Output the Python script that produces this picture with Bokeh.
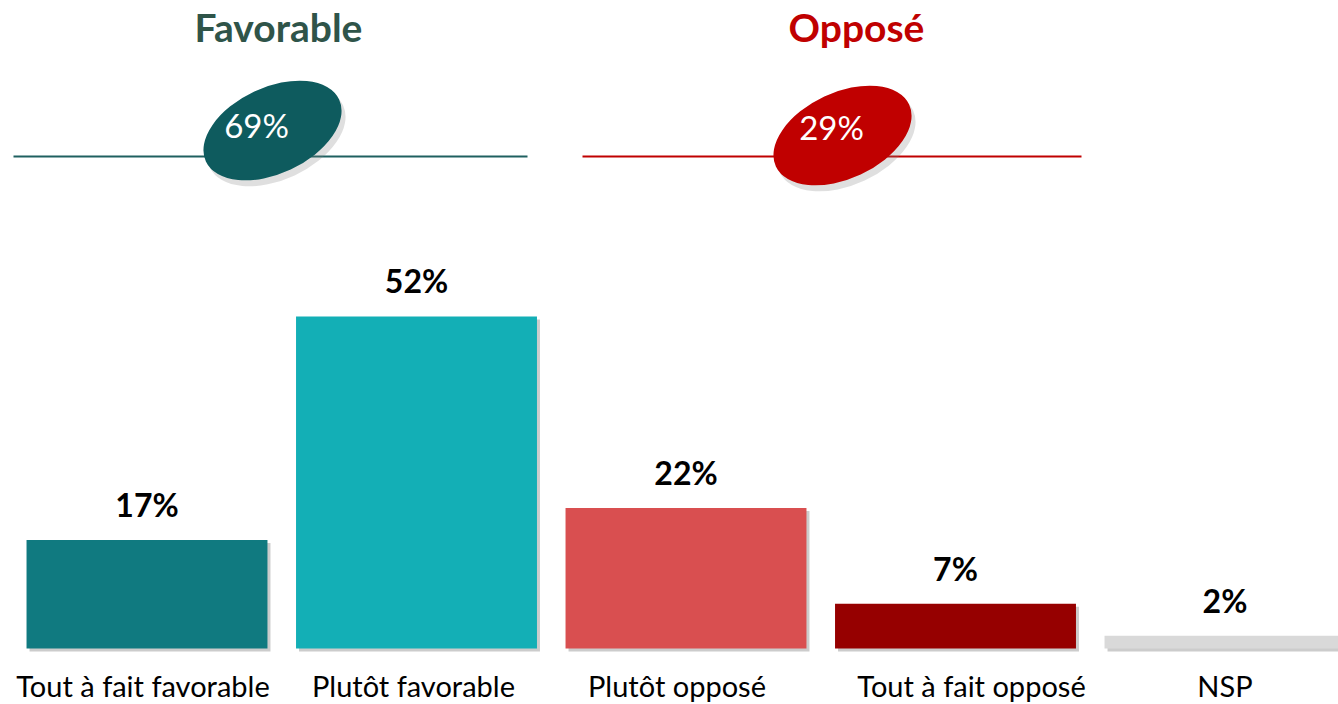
from bokeh.plotting import figure
from bokeh.models import Range1d, ColumnDataSource
from bokeh.core.properties import value
from bokeh.embed import file_html
from bokeh.resources import INLINE

# ---- data ----
categories = ["Tout à fait favorable", "Plutôt favorable", "Plutôt opposé", "Tout à fait opposé", "NSP"]
values = [17, 52, 22, 7, 2]
bar_colors = ["#107A80", "#13AFB6", "#D94F50", "#960000", "#D9D9D9"]
groups = ["Favorable", "Opposé"]
group_totals = [69, 29]
group_colors = ["#2F5449", "#C00000"]
group_fill = ["#0E5B5E", "#C00000"]
group_line = ["#1F6060", "#C00000"]

W, H = 1338, 704
OFF = 0
X0 = (OFF - 146.5) / 269.5
X1 = (OFF + W - 146.5) / 269.5
Y0 = (648 - (OFF + H)) / 6.385
Y1 = (648 - OFF) / 6.385
FONT = "Lato"
label_dx_px = [-4, -3, -9, 16, 0]   # small horizontal nudges of category labels (screen px)

def px(xp):  # page x -> data x
    return X0 + (xp - OFF) / W * (X1 - X0)

def py(yp):  # page y -> data y
    return Y1 - (yp - OFF) / H * (Y1 - Y0)

p = figure(width=W, height=H, output_backend="svg", toolbar_location=None,
           x_range=Range1d(X0, X1), y_range=Range1d(Y0, Y1), min_border=0)
p.axis.visible = False
p.grid.visible = False
p.outline_line_color = None
p.background_fill_color = "white"
p.border_fill_color = "white"

xs = list(range(len(categories)))
dx = 3 * (X1 - X0) / W
dy = 3 * (Y1 - Y0) / H
src = ColumnDataSource(dict(x=xs, v=values, c=bar_colors, cat=categories,
                            lab=[f"{v}%" for v in values],
                            lx=[x + d * (X1 - X0) / W for x, d in zip(xs, label_dx_px)],
                            sx=[x + dx for x in xs], sv=[v - dy for v in values]))

# bar shadows
p.vbar(x="sx", top="sv", bottom=-dy, width=0.894, source=src,
       fill_color="#9A9A9A", fill_alpha=0.5, line_color=None)
p.vbar(x="x", top="v", bottom=0, width=0.894, source=src,
       fill_color="c", line_color=None)

# value labels
p.text(x="x", y="v", text="lab", source=src, text_align="center", text_baseline="bottom",
       y_offset=-16, text_font=value(FONT), text_font_style="bold",
       text_font_size="32px", text_color="#000000")

# category labels
p.text(x="lx", y=py(685), text="cat", source=src, text_align="center", text_baseline="middle",
       text_font=value(FONT), text_font_size="29px", text_color="#000000")

# group headers, lines, ellipses
head_x = [px(278), px(856)]
line_x0 = [px(13), px(582)]
line_x1 = [px(527), px(1081)]
ell_x = [px(272), px(842)]
ell_y = [py(130), py(135)]
txt_x = [px(256), px(831)]
txt_y = [py(124), py(126)]

for i in range(2):
    p.text(x=[head_x[i]], y=[py(26)], text=[groups[i]], text_align="center",
           text_baseline="middle", text_font=value(FONT), text_font_style="bold",
           text_font_size="39px", text_color=group_colors[i])
    p.segment(x0=[line_x0[i]], y0=[py(156)], x1=[line_x1[i]], y1=[py(156)],
              line_color=group_line[i], line_width=2)
    p.ellipse(x=[ell_x[i] + 4 * (X1 - X0) / W], y=[ell_y[i] - 6 * (Y1 - Y0) / H],
              width=147, height=86, width_units="screen", height_units="screen",
              angle=0.436, fill_color="#808080", fill_alpha=0.25, line_color=None)
    p.ellipse(x=[ell_x[i]], y=[ell_y[i]], width=147, height=86,
              width_units="screen", height_units="screen", angle=0.436,
              fill_color=group_fill[i], line_color=None)
    p.text(x=[txt_x[i]], y=[txt_y[i]], text=[f"{group_totals[i]}%"], text_align="center",
           text_baseline="middle", text_font=value(FONT), text_font_size="33px",
           text_color="white")

open("out.html", "w").write(file_html(p, INLINE))
